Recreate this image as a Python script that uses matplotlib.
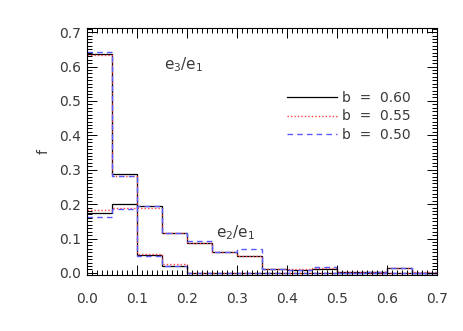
import numpy as np
import matplotlib
matplotlib.use("Agg")
import matplotlib.pyplot as plt
from matplotlib.ticker import MultipleLocator, FormatStrFormatter

edges = np.round(np.arange(0, 0.7001, 0.05), 3)

# e3/e1 distributions
e3_b060 = [0.635, 0.287, 0.051, 0.020, 0, 0, 0, 0, 0, 0, 0, 0, 0, 0]
e3_b055 = [0.634, 0.282, 0.055, 0.025, 0, 0, 0, 0, 0, 0, 0, 0, 0, 0]
e3_b050 = [0.642, 0.282, 0.049, 0.019, 0, 0, 0, 0, 0, 0, 0, 0, 0, 0]

# e2/e1 distributions
e2_b060 = [0.173, 0.200, 0.196, 0.116, 0.086, 0.060, 0.050, 0.011, 0.009, 0.012, 0.002, 0.002, 0.013, 0.001]
e2_b055 = [0.182, 0.188, 0.189, 0.116, 0.086, 0.060, 0.050, 0.011, 0.010, 0.014, 0.004, 0.003, 0.015, 0.002]
e2_b050 = [0.164, 0.187, 0.196, 0.117, 0.094, 0.060, 0.071, 0.011, 0.008, 0.018, 0.001, 0.002, 0.013, 0.001]

labels = ["b  =  0.60", "b  =  0.55", "b  =  0.50"]

txtc = "#3a3a3a"
fig = plt.figure(figsize=(4.63, 3.31), dpi=100)
ax = fig.add_axes([87/463, 1-275/331, 350/463, 247/331])

styles = [dict(color="black", ls="-", lw=0.9),
          dict(color="#ff4040", ls=(0, (1, 1.5)), lw=1.0),
          dict(color="#5a5aff", ls=(0, (4, 3)), lw=1.0)]

for i, (e3, e2) in enumerate([(e3_b060, e2_b060), (e3_b055, e2_b055), (e3_b050, e2_b050)]):
    ax.stairs(e3, edges, baseline=None, label=labels[i], **styles[i])
    ax.stairs(e2, edges, baseline=None, **styles[i])

ax.set_xlim(0, 0.7)
ax.set_ylim(-0.006, 0.712)
ax.xaxis.set_major_locator(MultipleLocator(0.1))
ax.xaxis.set_minor_locator(MultipleLocator(0.01))
ax.yaxis.set_major_locator(MultipleLocator(0.1))
ax.yaxis.set_minor_locator(MultipleLocator(0.01))
ax.tick_params(which="both", direction="in", top=True, right=True,
               labelsize=10, labelcolor=txtc, width=0.7)
ax.tick_params(which="major", length=7)
ax.tick_params(which="minor", length=3.5)
ax.tick_params(axis="x", which="major", pad=12)
ax.tick_params(axis="y", which="major", pad=4)
for s in ax.spines.values():
    s.set_linewidth(0.8)
ax.xaxis.set_major_formatter(FormatStrFormatter("%.1f"))
ax.yaxis.set_major_formatter(FormatStrFormatter("%.1f"))

ax.set_ylabel("f", fontsize=10, color=txtc, labelpad=6)

ax.text(0.154, 0.605, r"e$_3$/e$_1$", fontsize=11, color=txtc, va="center")
ax.text(0.258, 0.118, r"e$_2$/e$_1$", fontsize=11, color=txtc, va="center")

leg = ax.legend(frameon=False, loc="upper left", bbox_to_anchor=(0.57, 0.746),
                handlelength=3.6, handletextpad=0.4, labelspacing=0.34,
                fontsize=10, borderpad=0, borderaxespad=0)
for t in leg.get_texts():
    t.set_color(txtc)

fig.savefig("out.png", dpi=100)
